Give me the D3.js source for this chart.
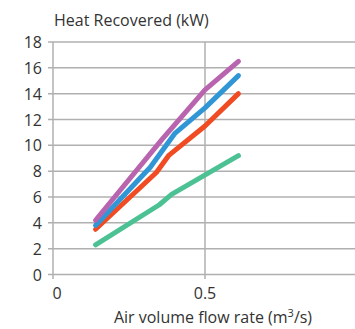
<!DOCTYPE html>
<html lang="en">

<head>
    <meta charset="UTF-8">
    <title>Heat Recovered</title>
    <script src="https://d3js.org/d3.v7.min.js"></script>
    <style>
        body { margin: 0; background: #fff; }
        text { font-family: "Open Sans", sans-serif; fill: #333; }
    </style>
</head>

<body>
    <script>
        // air volume flow rate (m3/s) and heat recovered (kW) for each curve
        var purpleX = [0.14, 0.36, 0.5, 0.61];
        var purpleY = [4.2, 10.5, 14.3, 16.5];
        var blueX = [0.14, 0.32, 0.4, 0.5, 0.61];
        var blueY = [3.8, 8.3, 10.9, 12.9, 15.4];
        var redX = [0.14, 0.34, 0.38, 0.5, 0.61];
        var redY = [3.5, 7.9, 9.2, 11.5, 14.0];
        var greenX = [0.14, 0.35, 0.39, 0.61];
        var greenY = [2.3, 5.4, 6.2, 9.2];

        var yTicks = [0, 2, 4, 6, 8, 10, 12, 14, 16, 18];
        var xTicks = [0, 0.5, 1];
        var xTickLabels = ["0", "0.5"];

        var series = [
            { x: greenX, y: greenY, color: "#4cc294" },
            { x: redX, y: redY, color: "#f04b23" },
            { x: blueX, y: blueY, color: "#3096d6" },
            { x: purpleX, y: purpleY, color: "#b864ae" }
        ];

        var width = 355;
        var height = 329;
        var svg = d3.select("body").append("svg")
            .attr("width", width)
            .attr("height", height);

        var xScale = d3.scaleLinear()
            .domain([0, 1])
            .range([53, 357]);

        var yScale = d3.scaleLinear()
            .domain([0, 18])
            .range([274.5, 42]);

        // horizontal gridlines
        svg.append("g")
            .selectAll("line")
            .data(yTicks)
            .enter()
            .append("line")
            .attr("x1", 48)
            .attr("x2", width)
            .attr("y1", (d) => yScale(d))
            .attr("y2", (d) => yScale(d))
            .attr("stroke", "#b0b0b0")
            .attr("stroke-width", 1.5);

        // vertical gridlines
        svg.append("g")
            .selectAll("line")
            .data(xTicks)
            .enter()
            .append("line")
            .attr("x1", (d) => xScale(d))
            .attr("x2", (d) => xScale(d))
            .attr("y1", yScale(18))
            .attr("y2", 279)
            .attr("stroke", "#b0b0b0")
            .attr("stroke-width", 1.5);

        // y tick labels
        svg.append("g")
            .selectAll("text")
            .data(yTicks)
            .enter()
            .append("text")
            .attr("x", 42)
            .attr("y", (d) => yScale(d) + 6)
            .attr("text-anchor", "end")
            .attr("font-size", 16)
            .text((d) => d);

        // x tick labels (1 falls off the page)
        svg.append("g")
            .selectAll("text")
            .data(xTickLabels)
            .enter()
            .append("text")
            .attr("x", (d, i) => xScale(xTicks[i]) + (i == 0 ? 4 : 0))
            .attr("y", 299)
            .attr("text-anchor", "middle")
            .attr("font-size", 16)
            .text((d) => d);

        var line = d3.line()
            .x((d) => xScale(d[0]))
            .y((d) => yScale(d[1]));

        svg.append("g")
            .selectAll("path")
            .data(series)
            .enter()
            .append("path")
            .attr("d", (s) => line(d3.zip(s.x, s.y)))
            .attr("fill", "none")
            .attr("stroke", (s) => s.color)
            .attr("stroke-width", 5)
            .attr("stroke-linecap", "round")
            .attr("stroke-linejoin", "round");

        // titles
        svg.append("text")
            .attr("x", 54)
            .attr("y", 26)
            .attr("font-size", 16)
            .text("Heat Recovered (kW)");

        var xTitle = svg.append("text")
            .attr("x", 213)
            .attr("y", 323)
            .attr("text-anchor", "middle")
            .attr("font-size", 16);
        xTitle.append("tspan").text("Air volume flow rate (m");
        xTitle.append("tspan").attr("font-size", 11).attr("dy", -6).text("3");
        xTitle.append("tspan").attr("dy", 6).text("/s)");
    </script>
</body>

</html>
